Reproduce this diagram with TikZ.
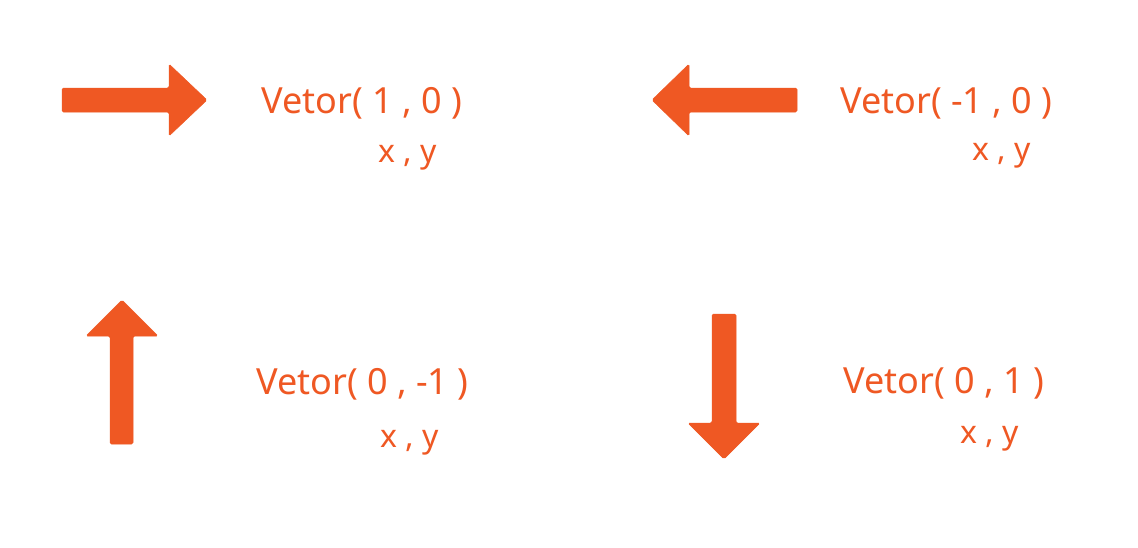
\documentclass[tikz,border=0pt]{standalone}
\usepackage{fontspec}
\setmainfont{Noto Sans}
\definecolor{vecorange}{HTML}{EF5823}
\begin{document}
\begin{tikzpicture}[x=1pt,y=-1pt,
  arrowshape/.style={fill=vecorange,draw=vecorange,line width=0.5pt,rounded corners=1.5pt},
  vlabel/.style={anchor=base west,inner sep=0pt,text=vecorange,font=\fontsize{36}{40}\selectfont},
  xylabel/.style={anchor=base west,inner sep=0pt,text=vecorange,font=\fontsize{32}{36}\selectfont}]
\useasboundingbox[fill=white] (0,0) rectangle (1138,547);

% right-pointing arrow
\fill[arrowshape] (62,88) -- (169,88) -- (169,64) -- (207,100) -- (169,136) -- (169,112) -- (62,112) -- cycle;
% left-pointing arrow
\fill[arrowshape] (797,88) -- (689,88) -- (689,64) -- (652,100) -- (689,136) -- (689,112) -- (797,112) -- cycle;
% upward arrow
\fill[arrowshape] (110,444) -- (110,336) -- (86,336) -- (122,300) -- (158,336) -- (133,336) -- (133,444) -- cycle;
% downward arrow
\fill[arrowshape] (712,314) -- (712,423) -- (688,423) -- (724,459) -- (760,423) -- (736,423) -- (736,314) -- cycle;

% labels
\node[vlabel] (r) at (261,113) {Vetor( 1 , 0 )};
\node[xylabel] (rxy) at (378,162) {x , y};
\node[vlabel] (l) at (840,113) {Vetor( -1 , 0 )};
\node[xylabel] (lxy) at (972,160) {x , y};
\node[vlabel] (u) at (256,394) {Vetor( 0 , -1 )};
\node[xylabel] (uxy) at (380,447) {x , y};
\node[vlabel] (d) at (843,393) {Vetor( 0 , 1 )};
\node[xylabel] (dxy) at (960,443) {x , y};
\end{tikzpicture}
\end{document}
